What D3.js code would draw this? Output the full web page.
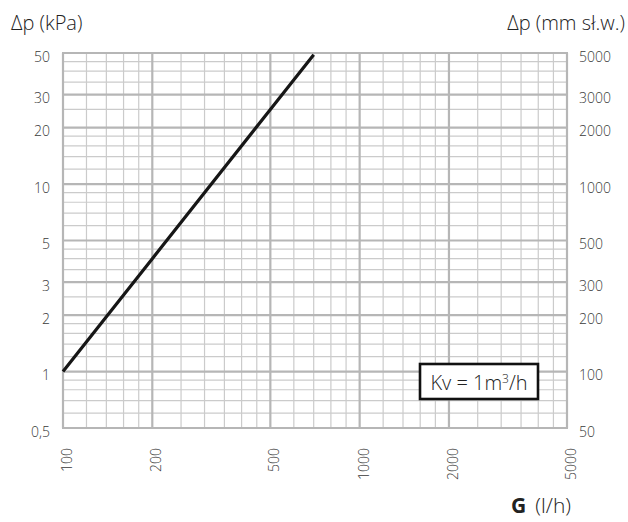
<!DOCTYPE html>
<html>
<head>
<meta charset="utf-8">
<script src="https://cdn.jsdelivr.net/npm/d3@7/dist/d3.min.js"></script>
<style>
  body { margin: 0; background: #fff; }
  svg text { font-family: "Open Sans", "DejaVu Sans", sans-serif; font-weight: 300; }
</style>
</head>
<body>
<div id="chart"></div>
<script>
var w = 628,
    h = 522;

// flow G (l/h) and pressure drop (kPa)
var flow = [100, 200, 500, 700];
var dpKpa = [1, 4, 25, 49];

var xMajor = [100, 200, 500, 1000, 2000, 5000];
var xMinor = [120, 140, 160, 180, 250, 300, 350, 400, 450, 600, 700, 800, 900,
              1200, 1400, 1600, 1800, 2500, 3000, 3500, 4000, 4500];
var yMajor = [0.5, 1, 2, 3, 5, 10, 20, 30, 50];
var yMinor = [0.6, 0.7, 0.8, 0.9, 1.2, 1.4, 1.6, 1.8, 2.5, 3.5, 4, 4.5,
              6, 7, 8, 9, 12, 14, 16, 18, 25, 35, 40, 45];
var yLeftLabels = ["0,5", "1", "2", "3", "5", "10", "20", "30", "50"];
var yRightLabels = ["50", "100", "200", "300", "500", "1000", "2000", "3000", "5000"];
var xLabels = ["100", "200", "500", "1000", "2000", "5000"];

var x = d3.scaleLog().domain([100, 5000]).range([63, 567]);
var y = d3.scaleLog().domain([0.5, 50]).range([428, 53]);

var svg = d3.select("#chart")
    .append("svg")
    .attr("width", w)
    .attr("height", h);

var grid = svg.append("g");

// minor grid
grid.selectAll("line.vmin")
    .data(xMinor).enter().append("line")
    .attr("x1", function(d) { return x(d); })
    .attr("x2", function(d) { return x(d); })
    .attr("y1", y(0.5)).attr("y2", y(50))
    .attr("stroke", "#cbcbcb").attr("stroke-width", 1.2);

grid.selectAll("line.hmin")
    .data(yMinor).enter().append("line")
    .attr("y1", function(d) { return y(d); })
    .attr("y2", function(d) { return y(d); })
    .attr("x1", x(100)).attr("x2", x(5000))
    .attr("stroke", "#cbcbcb").attr("stroke-width", 1.2);

// major grid
grid.selectAll("line.vmaj")
    .data(xMajor).enter().append("line")
    .attr("x1", function(d) { return x(d); })
    .attr("x2", function(d) { return x(d); })
    .attr("y1", y(0.5)).attr("y2", y(50))
    .attr("stroke", "#b6b6b6").attr("stroke-width", 2.2);

grid.selectAll("line.hmaj")
    .data(yMajor).enter().append("line")
    .attr("y1", function(d) { return y(d); })
    .attr("y2", function(d) { return y(d); })
    .attr("x1", x(100) - 1).attr("x2", x(5000) + 1)
    .attr("stroke", "#b6b6b6").attr("stroke-width", 2.2);

// curve
var line = d3.line()
    .x(function(d, i) { return x(flow[i]); })
    .y(function(d) { return y(d); });

svg.append("path")
    .datum(dpKpa)
    .attr("d", line)
    .attr("fill", "none")
    .attr("stroke", "#161616")
    .attr("stroke-width", 3.2);

// axes (labels only)
var leftAxis = d3.axisLeft(y)
    .tickValues(yMajor)
    .tickSize(0)
    .tickPadding(0)
    .tickFormat(function(d, i) { return yLeftLabels[i]; });

var rightAxis = d3.axisRight(y)
    .tickValues(yMajor)
    .tickSize(0)
    .tickPadding(0)
    .tickFormat(function(d, i) { return yRightLabels[i]; });

var gl = svg.append("g").attr("transform", "translate(50,0)").call(leftAxis);
var gr = svg.append("g").attr("transform", "translate(579,0)").call(rightAxis);
[gl, gr].forEach(function(g) {
    g.select(".domain").remove();
    g.selectAll("text")
        .attr("dy", 8)
        .attr("fill", "#3a3a3a")
        .style("font-size", "14px")
        .style("font-family", "\"Open Sans\", sans-serif")
        .style("font-weight", 300);
});

svg.append("g").selectAll("text")
    .data(xMajor).enter().append("text")
    .attr("transform", function(d) { return "translate(" + x(d) + ",448) rotate(-90)"; })
    .attr("dy", 9)
    .attr("text-anchor", "end")
    .attr("fill", "#3a3a3a")
    .style("font-size", "14px")
    .text(function(d, i) { return xLabels[i]; });

// titles
svg.append("text")
    .attr("x", 11).attr("y", 30)
    .attr("fill", "#222")
    .style("font-size", "20px")
    .text("Δp (kPa)");

svg.append("text")
    .attr("x", 625).attr("y", 30)
    .attr("text-anchor", "end")
    .attr("fill", "#222")
    .style("font-size", "20px")
    .text("Δp (mm sł.w.)");

var gt = svg.append("text")
    .attr("x", 571).attr("y", 513)
    .attr("text-anchor", "end")
    .attr("fill", "#222")
    .style("font-size", "21px");
gt.append("tspan").style("font-weight", "bold").text("G");
gt.append("tspan").attr("dx", 9).text("(l/h)");

// Kv box
svg.append("rect")
    .attr("x", 420).attr("y", 364)
    .attr("width", 118).attr("height", 35)
    .attr("fill", "#fff")
    .attr("stroke", "#111")
    .attr("stroke-width", 2.6);

var kv = svg.append("text")
    .attr("x", 479).attr("y", 390)
    .attr("text-anchor", "middle")
    .attr("fill", "#222")
    .style("font-size", "20px");
kv.append("tspan").text("Kv = 1m");
kv.append("tspan").attr("dy", -7).style("font-size", "12px").text("3");
kv.append("tspan").attr("dy", 7).text("/h");
</script>
</body>
</html>
